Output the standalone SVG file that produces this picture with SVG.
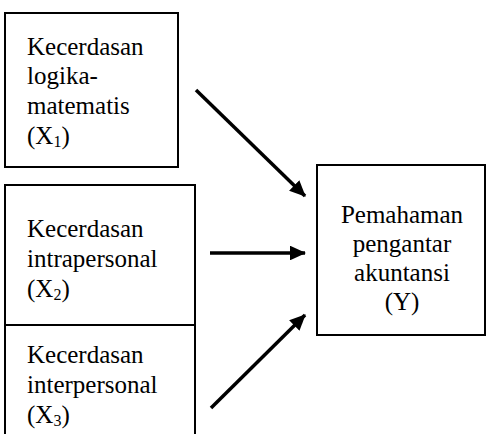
<svg xmlns="http://www.w3.org/2000/svg" width="487" height="434" viewBox="0 0 487 434">
<style>
.box{fill:#fff;stroke:#000;stroke-width:2}
text{font-family:'Liberation Serif','Times New Roman',Times,serif;font-size:25px;fill:#000}
.sub{font-size:16px}
.c{text-anchor:middle}
.conn{stroke:#000;stroke-width:3.5;fill:none}
</style>
<defs>
<marker id="ah" markerWidth="4.6" markerHeight="4.2" refX="4.3" refY="2.1" orient="auto" markerUnits="strokeWidth">
<path d="M0,0 L4.6,2.1 L0,4.2 z" fill="#000"/>
</marker>
</defs>
<rect width="487" height="434" fill="#fff"/>
<g id="x1">
<rect class="box" x="5" y="13" width="173" height="154"/>
<text x="27" y="55">Kecerdasan</text>
<text x="27" y="84">logika-</text>
<text x="27" y="114">matematis</text>
<text x="27" y="144">(X<tspan class="sub" dy="3">1</tspan><tspan dy="-3">)</tspan></text>
</g>
<g id="x2">
<rect class="box" x="5" y="185" width="190" height="140"/>
<text x="27" y="237">Kecerdasan</text>
<text x="27" y="267">intrapersonal</text>
<text x="27" y="297">(X<tspan class="sub" dy="3">2</tspan><tspan dy="-3">)</tspan></text>
</g>
<g id="x3">
<rect class="box" x="5" y="325" width="190" height="120"/>
<text x="27" y="363">Kecerdasan</text>
<text x="27" y="393">interpersonal</text>
<text x="27" y="423">(X<tspan class="sub" dy="3">3</tspan><tspan dy="-3">)</tspan></text>
</g>
<g id="y">
<rect class="box" x="317" y="165" width="168" height="170"/>
<text class="c" x="402" y="223">Pemahaman</text>
<text class="c" x="402" y="252">pengantar</text>
<text class="c" x="402" y="281">akuntansi</text>
<text class="c" x="402" y="310">(Y)</text>
</g>
<g id="connectors">
<line class="conn" x1="196" y1="90" x2="305" y2="196" marker-end="url(#ah)"/>
<line class="conn" x1="210" y1="253" x2="305" y2="253" marker-end="url(#ah)"/>
<line class="conn" x1="211" y1="408" x2="305" y2="315" marker-end="url(#ah)"/>
</g>
</svg>
